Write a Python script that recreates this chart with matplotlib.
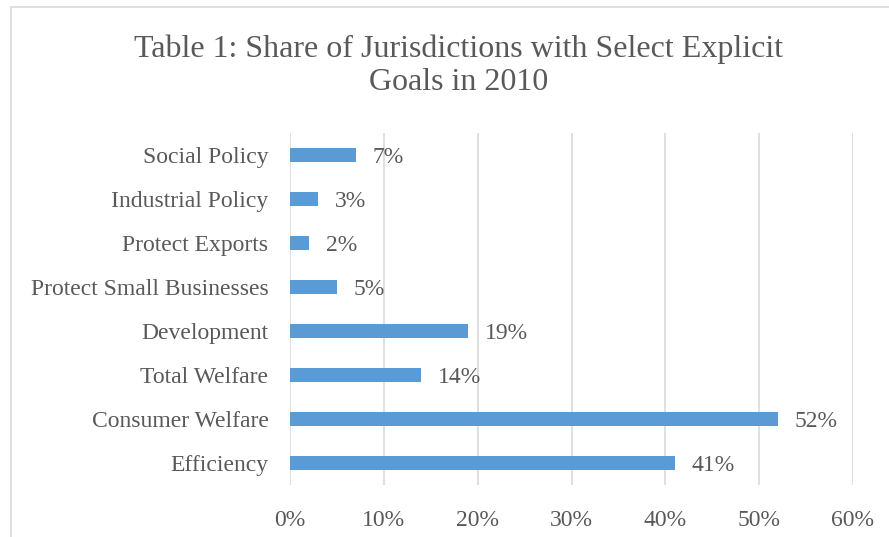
import matplotlib.pyplot as plt
from matplotlib.patches import Rectangle

categories = ['Efficiency', 'Consumer Welfare', 'Total Welfare', 'Development',
              'Protect Small Businesses', 'Protect Exports', 'Industrial Policy',
              'Social Policy']
shares = [41, 52, 14, 19, 5, 2, 3, 7]
ticks = [0, 10, 20, 30, 40, 50, 60]

text_col = '#595959'
plt.rcParams['font.family'] = ['Liberation Serif', 'DejaVu Serif']

fig = plt.figure(figsize=(8.89, 5.37), dpi=100)
W, H = 889, 537
ax = fig.add_axes([290 / W, 1 - 485 / H, (853 - 290) / W, (485 - 133) / H])

# chart border (cut off on the right and bottom)
fig.patches.append(Rectangle((10.5 / W, -0.1), 1.2, 1 - 6.5 / H + 0.1,
                             transform=fig.transFigure, fill=False,
                             edgecolor='#D9D9D9', linewidth=1.2))

ax.barh(range(len(categories)), shares, height=0.32, color='#5B9BD5', zorder=3)
for i, v in enumerate(shares):
    ax.text(v + 1.8, i - 0.05, f'{v}%', va='center', ha='left',
            fontsize=17, color=text_col)

ax.set_xlim(0, 60)
ax.set_ylim(-0.5, len(categories) - 0.5)
ax.set_xticks(ticks)
ax.set_xticklabels([f'{t}%' for t in ticks])
ax.set_yticks(range(len(categories)))
ax.set_yticklabels(categories)
ax.tick_params(axis='both', length=0, labelsize=17, labelcolor=text_col)
ax.tick_params(axis='x', pad=18)
ax.tick_params(axis='y', pad=15.5)
ax.grid(axis='x', color='#D9D9D9', linewidth=1.2, zorder=0)
for s in ax.spines.values():
    s.set_visible(False)

fig.text(459 / W, 1 - 66 / H, 'Table 1: Share of Jurisdictions with Select Explicit\nGoals in 2010',
         ha='center', va='center', fontsize=23, color=text_col, linespacing=1.17)

fig.savefig('out.png', dpi=100)
